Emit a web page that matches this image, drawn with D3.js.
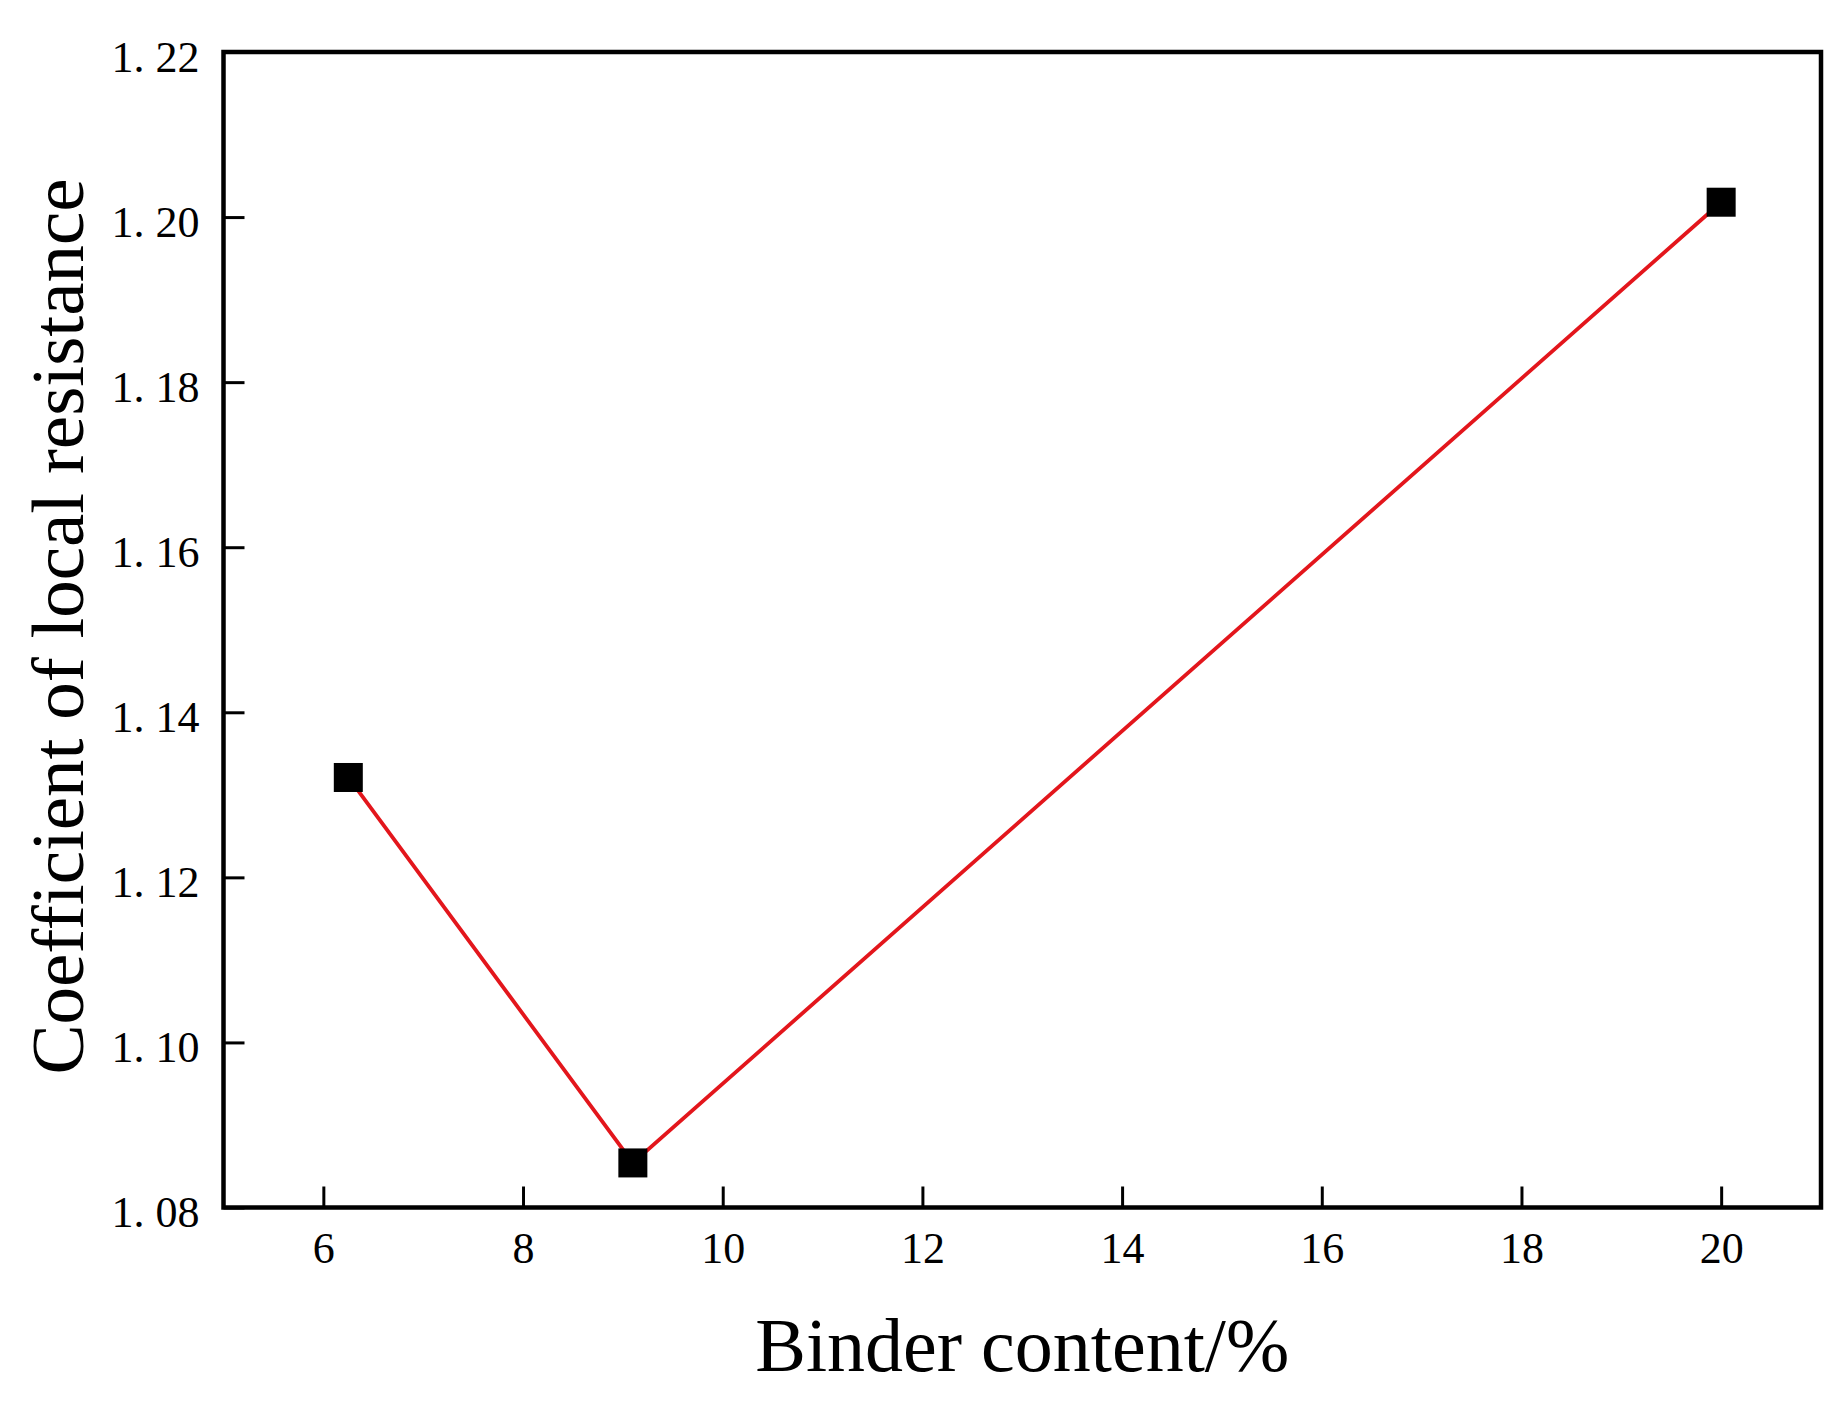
<!DOCTYPE html>
<html>
<head>
<meta charset="utf-8">
<script src="https://cdn.jsdelivr.net/npm/d3@7"></script>
<style>
  html, body { margin: 0; padding: 0; background: #fff; }
  svg { display: block; }
  text { font-family: "Liberation Serif", "Times New Roman", serif; fill: #000; }
</style>
</head>
<body>
<svg id="chart" width="1846" height="1407"></svg>
<script>
// Data
const binderContent = [6.25, 9.1, 20];
const resistanceCoef = [1.1321, 1.0854, 1.2018];
const xTicks = [6, 8, 10, 12, 14, 16, 18, 20];
const yTicks = [1.08, 1.10, 1.12, 1.14, 1.16, 1.18, 1.20, 1.22];
const xTitle = "Binder content/%";
const yTitle = "Coefficient of local resistance";

const svg = d3.select("#chart");
const plot = { left: 223.5, right: 1821, top: 52, bottom: 1207.5 };

const x = d3.scaleLinear().domain([5, 21]).range([plot.left, plot.right]);
const y = d3.scaleLinear().domain([1.08, 1.22]).range([plot.bottom, plot.top]);

// Axes (ticks inward)
const xAxis = d3.axisBottom(x).tickValues(xTicks).tickSize(-21).tickPadding(34)
  .tickFormat(d3.format("d"));
const yAxis = d3.axisLeft(y).tickValues(yTicks).tickSize(-21).tickPadding(24)
  .tickFormat(d => d3.format(".2f")(d).replace(".", ". "));

const gx = svg.append("g").attr("transform", `translate(0,${plot.bottom})`).call(xAxis);
const gy = svg.append("g").attr("transform", `translate(${plot.left},0)`).call(yAxis);

[gx, gy].forEach(g => {
  g.select(".domain").remove();
  g.selectAll(".tick line").attr("stroke", "#000").attr("stroke-width", 3);
  g.selectAll(".tick text")
    .style("font-family", '"Liberation Serif", "Times New Roman", serif')
    .style("font-size", "44px").attr("fill", "#000");
});
gx.selectAll(".tick text").attr("dy", "0.71em").attr("y", 24);
gy.selectAll(".tick text").attr("dy", "0.44em").attr("x", -24);

// Frame
svg.append("rect")
  .attr("x", plot.left).attr("y", plot.top)
  .attr("width", plot.right - plot.left).attr("height", plot.bottom - plot.top)
  .attr("fill", "none").attr("stroke", "#000").attr("stroke-width", 4.5);

// Line
const pts = binderContent.map((v, i) => [v, resistanceCoef[i]]);
svg.append("path")
  .datum(pts)
  .attr("fill", "none")
  .attr("stroke", "#e3161c")
  .attr("stroke-width", 3.8)
  .attr("d", d3.line().x(d => x(d[0])).y(d => y(d[1])));

// Markers
const ms = 29;
svg.selectAll("rect.marker").data(pts).enter().append("rect")
  .attr("class", "marker")
  .attr("x", d => x(d[0]) - ms / 2)
  .attr("y", d => y(d[1]) - ms / 2)
  .attr("width", ms).attr("height", ms)
  .attr("fill", "#000");

// Titles
svg.append("text")
  .attr("x", (plot.left + plot.right) / 2).attr("y", 1371)
  .attr("text-anchor", "middle")
  .style("font-size", "76px")
  .text(xTitle);

svg.append("text")
  .attr("transform", "translate(83,626.5) rotate(-90)")
  .attr("text-anchor", "middle")
  .style("font-size", "75px")
  .text(yTitle);
</script>
</body>
</html>
